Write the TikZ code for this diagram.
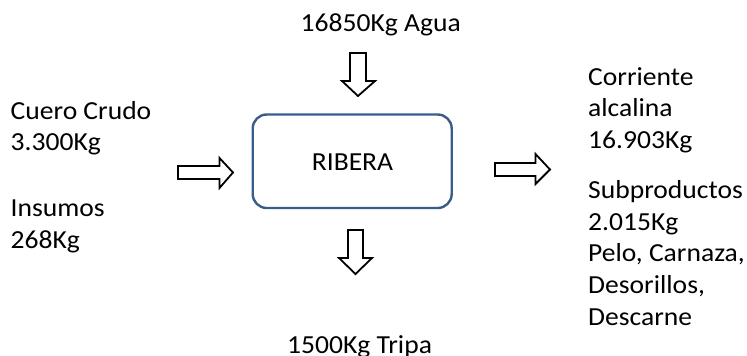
\documentclass[tikz,border=0pt]{standalone}
\usepackage{fontspec}
\setmainfont{Carlito}[FakeStretch=1.06]
\begin{document}
\begin{tikzpicture}[x=1pt,y=-1pt,
  lbl/.style={anchor=base west,inner sep=0pt,font=\fontsize{26}{31.7}\selectfont},
  blockarrow/.style={draw=black,fill=white,line width=1.8pt,line join=miter},
  procbox/.style={draw=boxblue,line width=2.4pt,rounded corners=14pt}]
\definecolor{boxblue}{HTML}{385D8A}
\useasboundingbox (0,0) rectangle (747,356);
% process box
\draw[procbox] (252.7,114.5) rectangle (451.7,208);
\node[lbl,anchor=base] (rib) at (352.5,170.7) {RIBERA};
% block arrows
\draw[blockarrow] (350,53) -- (366,53) -- (366,81) -- (375,81) -- (358,96) -- (342,81) -- (350,81) -- cycle;
\draw[blockarrow] (348,230) -- (363,230) -- (363,258) -- (372,258) -- (355.5,274) -- (339,258) -- (348,258) -- cycle;
\draw[blockarrow] (178,166) -- (219.5,166) -- (219.5,158) -- (233,172.5) -- (219.5,188) -- (219.5,179) -- (178,179) -- cycle;
\draw[blockarrow] (495,163) -- (535.5,163) -- (535.5,154) -- (550,169.5) -- (535.5,184) -- (535.5,176) -- (495,176) -- cycle;
% texts
\node[lbl] (agua) at (300.5,31.7) {16850Kg Agua};
\node[lbl] (trip) at (287,353) {1500Kg Tripa};
\node[lbl] (cu1) at (10.5,119) {Cuero Crudo};
\node[lbl] (cu2) at (10.5,150.5) {3.300Kg};
\node[lbl] (in1) at (10.5,216.7) {Insumos};
\node[lbl] (in2) at (10.5,248.3) {268Kg};
\node[lbl] (co1) at (588,85) {Corriente};
\node[lbl] (co2) at (588,116.7) {alcalina};
\node[lbl] (co3) at (588,148.4) {16.903Kg};
\node[lbl] (su1) at (588,198.3) {Subproductos};
\node[lbl] (su2) at (588,230) {2.015Kg};
\node[lbl] (su3) at (588,261.7) {Pelo, Carnaza,};
\node[lbl] (su4) at (588,293.4) {Desorillos,};
\node[lbl] (su5) at (588,325) {Descarne};
\end{tikzpicture}
\end{document}
